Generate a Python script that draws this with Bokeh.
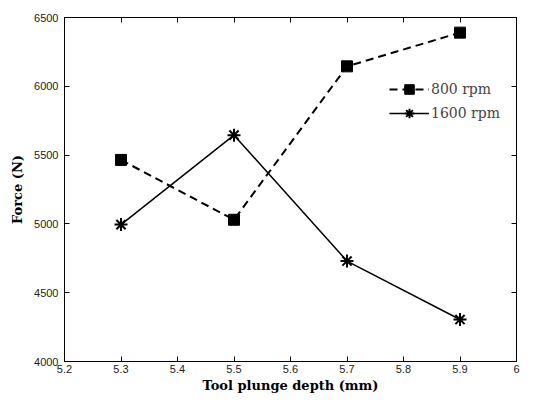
from bokeh.plotting import figure
from bokeh.models import LinearAxis, FixedTicker, Range1d, Legend, LegendItem
from bokeh.embed import file_html
from bokeh.resources import INLINE

depth = [5.3, 5.5, 5.7, 5.9]
force_800 = [5465, 5030, 6145, 6390]
force_1600 = [4995, 5645, 4730, 4305]
x_ticks = [5.2, 5.3, 5.4, 5.5, 5.6, 5.7, 5.8, 5.9, 6.0]
y_ticks = [4000, 4500, 5000, 5500, 6000, 6500]

p = figure(width=527, height=395, output_backend="svg", toolbar_location=None,
           x_range=Range1d(5.2, 6.0), y_range=Range1d(4000, 6500),
           min_border_left=64, min_border_right=11, min_border_top=17, min_border_bottom=32)
p.grid.visible = False
p.outline_line_color = "black"
p.outline_line_width = 1
p.background_fill_color = "white"
p.border_fill_color = "white"

tick_font = "Liberation Sans"
for ax in p.xaxis + p.yaxis:
    ax.major_tick_in = 5
    ax.major_tick_out = 0
    ax.minor_tick_line_color = None
    ax.axis_line_color = "black"
    ax.major_label_text_font = tick_font
    ax.major_label_text_font_size = "11px"
    ax.major_label_text_color = "#222222"
    ax.axis_label_text_font = "DejaVu Serif"
    ax.axis_label_text_font_style = "bold"
    ax.axis_label_text_font_size = "13px"
    ax.axis_label_text_color = "black"

p.xaxis.ticker = FixedTicker(ticks=x_ticks)
p.yaxis.ticker = FixedTicker(ticks=y_ticks)
p.xaxis.major_label_overrides = {6: "6"}
p.xaxis.axis_label = "Tool plunge depth (mm)"
p.yaxis.axis_label = "Force (N)"
p.xaxis.major_label_standoff = 3
p.yaxis.major_label_standoff = 6
p.xaxis.axis_label_standoff = 2
p.yaxis.axis_label_standoff = 6

for loc, ticks in (("above", x_ticks), ("right", y_ticks)):
    ax = LinearAxis(ticker=FixedTicker(ticks=ticks), major_tick_in=5, major_tick_out=0,
                    minor_tick_line_color=None, major_label_text_font_size="1px",
                    major_label_text_color=None, major_label_standoff=0,
                    axis_line_color="black")
    p.add_layout(ax, loc)

l1 = p.line(depth, force_800, line_color="black", line_width=2, line_dash="8 5")
s1 = p.scatter(depth, force_800, marker="square", size=11, fill_color="black", line_color="black")
l2 = p.line(depth, force_1600, line_color="black", line_width=1.5)
s2 = p.scatter(depth, force_1600, marker="asterisk", size=13, line_color="black", line_width=2)

legend = Legend(items=[LegendItem(label="800 rpm", renderers=[l1, s1]),
                       LegendItem(label="1600 rpm", renderers=[l2, s2])],
                location=(325, 236), border_line_color=None, background_fill_alpha=0,
                label_text_font="DejaVu Serif", label_text_font_size="14px",
                glyph_width=40, glyph_height=24, spacing=0, padding=0, margin=0,
                label_standoff=2)
p.add_layout(legend)

open("out.html", "w").write(file_html(p, INLINE))
